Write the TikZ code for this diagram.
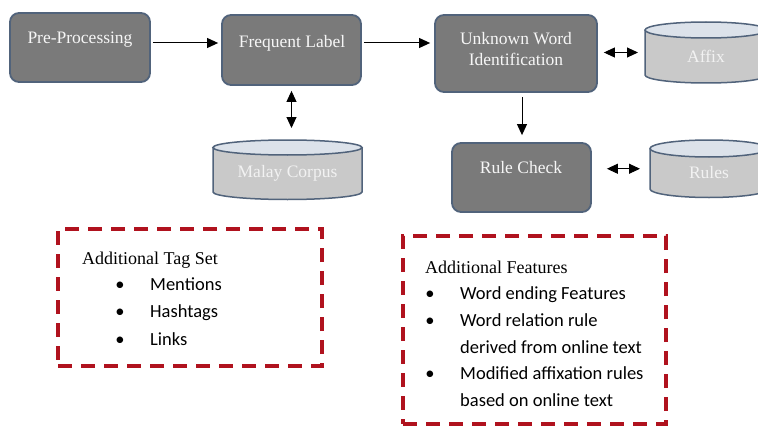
\documentclass[tikz,border=0pt]{standalone}
\usepackage{fontspec}
\setmainfont{Liberation Serif}
\newfontfamily\itemfont{Carlito}
\usetikzlibrary{arrows.meta}

\definecolor{boxfill}{HTML}{7A7A7A}
\definecolor{boxedge}{HTML}{51637B}
\definecolor{drumfill}{HTML}{C9C9C9}
\definecolor{drumtop}{HTML}{DCE2EA}
\definecolor{boxtext}{HTML}{F6F6F6}
\definecolor{drumtext}{HTML}{F2F2F2}
\definecolor{dashred}{HTML}{B0121E}

\tikzset{
  procbox/.style={draw=boxedge, line width=1.8pt, fill=boxfill, rounded corners=9pt, inner sep=0pt},
  proclabel/.style={text=boxtext, font=\fontsize{17.5}{21}\selectfont, align=center, inner sep=0pt},
  drumbody/.style={inner sep=0pt, outer sep=0pt},
  drumedge/.style={draw=boxedge, line width=1.5pt},
  drumlabel/.style={text=drumtext, font=\fontsize{17.5}{21}\selectfont, inner sep=0pt},
  tip/.style={Triangle[length=11pt,width=10pt]},
  flow/.style={line width=1pt, -{Triangle[length=11pt,width=10pt]}},
  twoway/.style={line width=1pt, {Triangle[length=11pt,width=10pt]}-{Triangle[length=11pt,width=10pt]}},
  notebox/.style={draw=dashred, line width=3.6pt, dash pattern=on 14pt off 9pt},
  notehead/.style={font=\fontsize{18}{22}\selectfont, anchor=base west, inner sep=0pt},
  noteitem/.style={font=\itemfont\fontsize{18.5}{22}\selectfont, anchor=base west, inner sep=0pt},
  notedot/.style={font=\itemfont\fontsize{18.5}{22}\selectfont, anchor=base, inner sep=0pt},
}

% drum (database cylinder): name, centre x, top ellipse y, bottom ellipse y, x radius, y radius, label
\newcommand\drum[7]{%
  \node[drumbody, minimum width={2*#5pt}, minimum height={(#4-#3+2*#6)*1pt}] (#1) at (#2,{(#3+#4)/2}) {};
  \fill[drumfill] ([yshift=-#6pt]#1.north west) -- ([yshift=#6pt]#1.south west)
     arc[start angle=180, end angle=360, x radius=#5pt, y radius=#6pt]
     -- ([yshift=-#6pt]#1.north east) -- cycle;
  \draw[drumedge] ([yshift=-#6pt]#1.north west) -- ([yshift=#6pt]#1.south west)
     arc[start angle=180, end angle=360, x radius=#5pt, y radius=#6pt]
     -- ([yshift=-#6pt]#1.north east);
  \filldraw[drumedge, fill=drumtop] ([yshift=-#6pt]#1.north) ellipse[x radius=#5pt, y radius=#6pt];
  \node[drumlabel] (#1-t) at ([yshift=-4pt]#1.center) {#7};
}

\begin{document}
\begin{tikzpicture}[x=1pt, y=-1pt]
\useasboundingbox[fill=white] (0,0) rectangle (758,428);

% process boxes
\node[procbox, minimum width=140pt, minimum height=69pt] (pp) at (80,47.5) {};
\node[proclabel] (pp-t) at (80,40) {Pre-Processing};

\node[procbox, minimum width=139pt, minimum height=70pt] (fl) at (291.5,50) {};
\node[proclabel] (fl-t) at (292,43) {Frequent Label};

\node[procbox, minimum width=162pt, minimum height=77pt] (uw) at (516,53.5) {};
\node[proclabel] (uw-t) at (516,49) {Unknown Word\\Identification};

\node[procbox, minimum width=139pt, minimum height=69pt] (rc) at (521.5,177.5) {};
\node[proclabel] (rc-t) at (521,168) {Rule Check};

% data stores
\drum{mc}{287.5}{147.5}{192}{74.5}{7.5}{Malay Corpus}
\drum{af}{706}{30}{75}{61}{8}{Affix}
\drum{rl}{709}{148.5}{189}{59}{8.5}{Rules}

% connectors
\coordinate (row) at (0,43);
\draw[flow, shorten <=2pt, shorten >=3pt] (pp.east |- row) -- (fl.west |- row);
\draw[flow, shorten <=2pt, shorten >=4pt] (fl.east |- row) -- (uw.west |- row);
\draw[twoway, shorten <=5pt, shorten >=12pt] (fl.south) -- (mc.north -| fl.south);
\draw[twoway, shorten <=6pt, shorten >=7pt] (uw.east |- af.center) -- (af.west);
\draw[flow, shorten <=4pt, shorten >=7pt] (uw.south -| 522,0) -- (rc.north -| 522,0);
\draw[twoway, shorten <=15pt, shorten >=10pt] (rc.east |- rl.center) -- (rl.west);

% note: additional tag set
\node[notebox, minimum width=264pt, minimum height=137pt, inner sep=0pt] (tagbox) at (190,297.5) {};
\node[notehead] (tag-h) at (82,264) {Additional Tag Set};
\node[notedot] (tag-d1) at (120,290) {•};
\node[noteitem] (tag-1) at (150,290) {Mentions};
\node[notedot] (tag-d2) at (120,317.5) {•};
\node[noteitem] (tag-2) at (150,317.5) {Hashtags};
\node[notedot] (tag-d3) at (120,345) {•};
\node[noteitem] (tag-3) at (150,345) {Links};

% note: additional features
\node[notebox, minimum width=263pt, minimum height=188pt, inner sep=0pt] (featbox) at (534.5,330) {};
\node[notehead] (feat-h) at (425,273) {Additional Features};
\node[notedot] (feat-d1) at (430,299.5) {•};
\node[noteitem] (feat-1) at (460,299.5) {Word ending Features};
\node[notedot] (feat-d2) at (430,326.5) {•};
\node[noteitem] (feat-2a) at (460,326.5) {Word relation rule};
\node[noteitem] (feat-2b) at (460,353) {derived from online text};
\node[notedot] (feat-d3) at (430,379.5) {•};
\node[noteitem] (feat-3a) at (460,379.5) {Modified affixation rules};
\node[noteitem] (feat-3b) at (460,406.5) {based on online text};
\end{tikzpicture}
\end{document}
